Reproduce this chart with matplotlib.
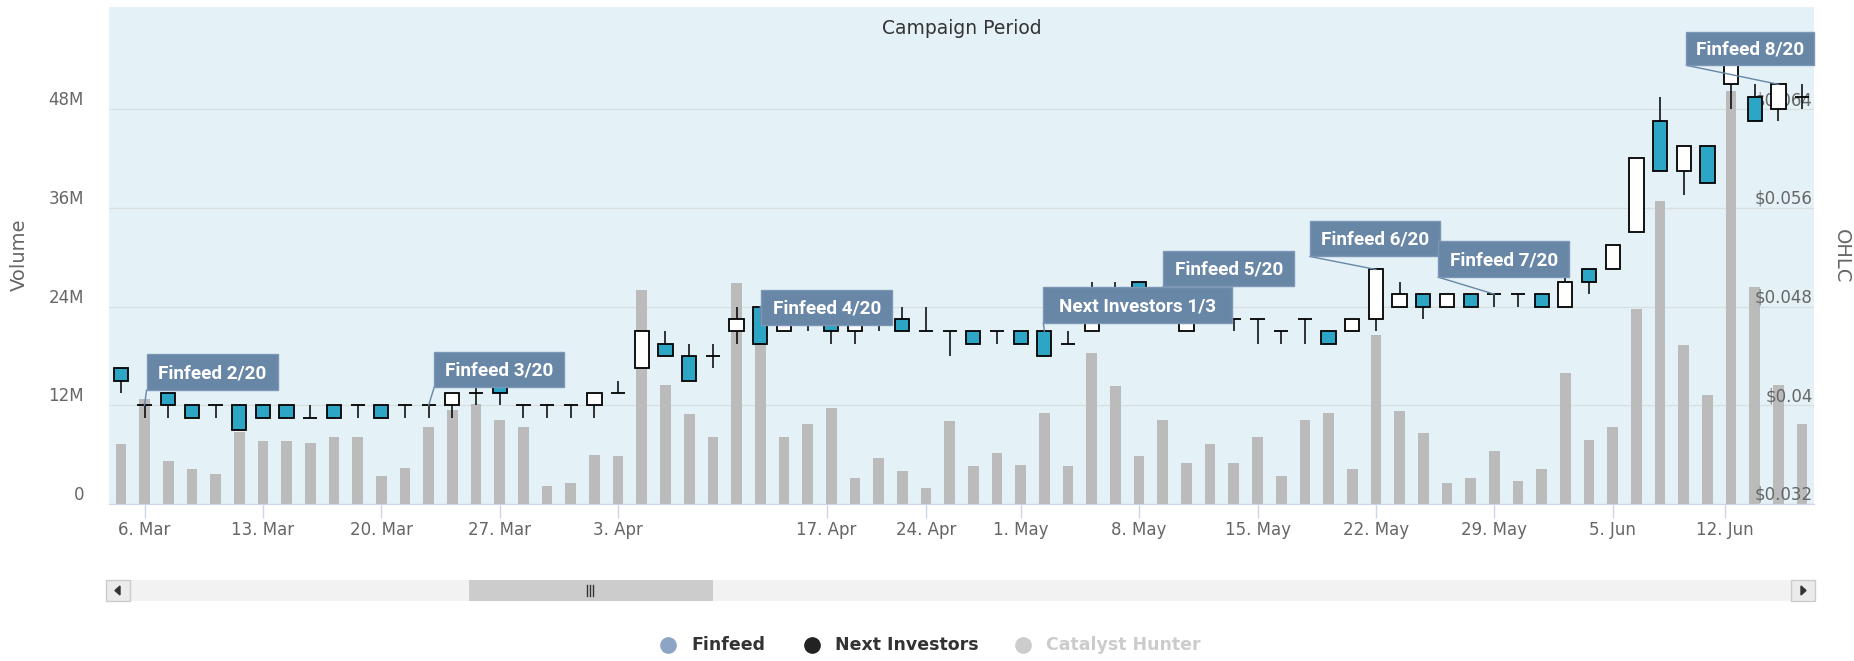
import numpy as np
import pandas as pd
import matplotlib
matplotlib.use('Agg')
from matplotlib import pyplot
from matplotlib import transforms
from matplotlib.lines import Line2D
from matplotlib.patches import Rectangle, Polygon

band_colour = '#e4f2f7'
grid_colour = '#d9dfe1'
axis_colour = '#ccd6eb'
label_colour = '#666666'
volume_colour = '#bbbbbb'
down_colour = '#2da6c6'
flag_colour = '#6886a6'
flag_font = ['Roboto', 'DejaVu Sans']

# ASX trading days in the visible window (weekends and public holidays skipped)
holidays = ['2017-04-14', '2017-04-17', '2017-04-25', '2017-06-12']
dates = pd.bdate_range('2017-03-03', '2017-06-16').drop(pd.DatetimeIndex(holidays))

# OHLC in tenths of a cent
opens = [43, 40, 41, 40, 40, 40, 40, 40, 39, 40, 40, 40, 40, 40, 40, 41, 42, 40, 40, 40,
         40, 41, 43, 45, 44, 44, 46, 48, 46, 47, 47, 46, 47, 47, 46, 46, 46, 46, 46, 46,
         45, 46, 48, 50, 48, 46, 48, 47, 47, 46, 47, 46, 46, 47, 48, 49, 48, 49, 49, 49,
         49, 48, 51, 51, 54, 63, 59, 61, 66, 65, 64, 65]
highs = [43, 40, 41, 40, 40, 40, 40, 40, 40, 40, 40, 40, 40, 40, 41, 41.5, 42, 40, 40, 40,
         41, 42, 46, 46, 45, 45, 48, 48, 47, 47, 47, 47, 47, 48, 48, 46, 46, 46, 46, 46,
         46, 50, 50, 50, 49, 48, 48, 47, 47, 46, 47, 46, 47, 51, 50, 49, 49, 49, 49, 49,
         49, 50.5, 51, 53, 60, 65, 61, 61, 68, 66, 66, 66]
lows = [41, 39, 39, 39, 39, 38, 39, 39, 39, 39, 39, 39, 39, 39, 39, 40, 40, 39, 39, 39,
        39, 41, 43, 44, 42, 43, 45, 45, 46, 46, 45, 45, 46, 46, 46, 44, 45, 45, 45, 44,
        45, 46, 47, 48, 48, 46, 47, 46, 45, 45, 45, 45, 46, 46, 48, 47, 48, 48, 48, 48,
        48, 48, 49, 51, 54, 59, 57, 58, 64, 63, 63, 64]
closes = [42, 40, 40, 39, 40, 38, 39, 39, 39, 39, 40, 39, 40, 40, 41, 41, 41, 40, 40, 40,
          41, 41, 46, 44, 42, 44, 47, 45, 47, 47, 46, 47, 47, 46, 46, 46, 45, 46, 45, 44,
          45, 48, 47, 48, 49, 48, 47, 47, 47, 46, 47, 45, 47, 51, 49, 48, 49, 48, 49, 49,
          48, 50, 50, 53, 60, 59, 61, 58, 68, 63, 66, 65]
# volume in millions of shares
volume_m = [7.3, 12.7, 5.2, 4.2, 3.6, 8.7, 7.7, 7.7, 7.4, 8.2, 8.1, 3.4, 4.4, 9.4, 11.4, 12.2,
            10.2, 9.4, 2.2, 2.6, 6.0, 5.8, 26.0, 14.5, 10.9, 8.1, 26.9, 21.0, 8.1, 9.7, 11.7,
            3.2, 5.6, 4.0, 2.0, 10.1, 4.6, 6.2, 4.8, 11.0, 4.6, 18.3, 14.3, 5.8, 10.2, 5.0,
            7.3, 5.0, 8.2, 3.4, 10.2, 11.0, 4.2, 20.5, 11.3, 8.6, 2.6, 3.2, 6.4, 2.8, 4.2,
            15.9, 7.8, 9.4, 23.7, 36.8, 19.3, 13.3, 50.2, 26.4, 14.5, 9.7]

tick_dates = ['2017-03-06', '2017-03-13', '2017-03-20', '2017-03-27', '2017-04-03',
              '2017-04-17', '2017-04-24', '2017-05-01', '2017-05-08', '2017-05-15',
              '2017-05-22', '2017-05-29', '2017-06-05', '2017-06-12']
tick_labels = ['6. Mar', '13. Mar', '20. Mar', '27. Mar', '3. Apr', '17. Apr', '24. Apr',
               '1. May', '8. May', '15. May', '22. May', '29. May', '5. Jun', '12. Jun']
volume_ticks = [0, 12, 24, 36, 48]
volume_labels = ['0', '12M', '24M', '36M', '48M']
price_ticks = [0.032, 0.04, 0.048, 0.056, 0.064]
price_labels = ['$0.032', '$0.04', '$0.048', '$0.056', '$0.064']

flag_texts = ['Finfeed 2/20', 'Finfeed 3/20', 'Finfeed 4/20', 'Next Investors 1/3',
              'Finfeed 5/20', 'Finfeed 6/20', 'Finfeed 7/20', 'Finfeed 8/20']
flag_dates = ['2017-03-06', '2017-03-22', '2017-04-11', '2017-05-02',
              '2017-05-09', '2017-05-22', '2017-05-29', '2017-06-15']
flag_prices = [0.040, 0.040, 0.048, 0.046, 0.049, 0.051, 0.049, 0.066]
# box placement in pixels relative to the flagged point: dx, dy, width, height
flag_boxes = [(2, 15, 131, 36), (5.5, 18, 130, 35), (1, -18, 131, 35), (-1, 8, 189, 36),
              (0.5, 8, 131, 35), (-66, 13, 130, 35), (-56, 17, 131, 36), (-92, 19, 128, 33)]

legend_names = ['Finfeed', 'Next Investors', 'Catalyst Hunter']
legend_markers = ['#8da5c4', '#222222', '#cccccc']
legend_text_colours = ['#333333', '#333333', '#cccccc']
legend_x = [668, 812, 1023]

W, H = 1854, 661
fig = pyplot.figure(figsize=(W / 100, H / 100), dpi=100)

# Volume axis (left) with the campaign band as background
ax = fig.add_axes([109 / W, 1 - 504 / H, (1814 - 109) / W, (504 - 7) / H])
ax.set_facecolor(band_colour)
x = np.arange(len(dates))
ax.bar(x, volume_m, width=0.45, color=volume_colour, zorder=2)
ax.set_yticks(volume_ticks, volume_labels, va='bottom', color=label_colour, fontsize=12)
ax.tick_params(axis='y', length=0, pad=18)
ax.yaxis.grid(True, color=grid_colour, linewidth=1)
ax.set_axisbelow(True)
for side in ['left', 'right', 'top']:
    ax.spines[side].set_visible(False)
ax.spines['bottom'].set_color(axis_colour)

day_ord = [d.toordinal() for d in dates]
tick_pos = np.interp([pd.Timestamp(d).toordinal() for d in tick_dates], day_ord, x)
ax.set_xticks(tick_pos, tick_labels, color=label_colour, fontsize=12)
ax.tick_params(axis='x', length=10, width=1, color=axis_colour, pad=2)
ax.text(0.5, (504 - 28) / 497, 'Campaign Period', transform=ax.transAxes,
        ha='center', va='center', fontsize=13.5, color='#333333')

# Price axis (right) with the candlesticks
ax2 = ax.twinx()
for s in ax2.spines.values():
    s.set_visible(False)
o = np.array(opens) / 1000
h = np.array(highs) / 1000
l = np.array(lows) / 1000
c = np.array(closes) / 1000
ax2.vlines(x, l, h, color='black', linewidth=1.1, zorder=3)
body_colours = [down_colour if cc < oo else 'white' for oo, cc in zip(o, c)]
ax2.bar(x, np.abs(c - o), bottom=np.minimum(o, c), width=0.6, color=body_colours,
        edgecolor='black', linewidth=1.3, zorder=4)
ax2.set_yticks(price_ticks, price_labels, va='bottom', ha='right', color=label_colour, fontsize=12)
ax2.tick_params(axis='y', length=0, pad=-1)

# size the flag text so "Finfeed 2/20" is about 108 px wide, as in the screenshot
renderer = fig.canvas.get_renderer()
probe = fig.text(0, 0, flag_texts[0], fontsize=16, fontweight='bold', family=flag_font)
flag_size = min(17.0, 16 * 108 / probe.get_window_extent(renderer).width)
probe.remove()

# Campaign flags
for text, fd, fp, (dx, dy, w, bh) in zip(flag_texts, flag_dates, flag_prices, flag_boxes):
    i = dates.get_loc(pd.Timestamp(fd))
    t = transforms.ScaledTranslation(i, fp, ax2.transData)
    ax2.add_artist(Line2D([dx, 0], [dy, 0], transform=t, color=flag_colour,
                          linewidth=1, zorder=5, clip_on=False))
    ax2.add_artist(Rectangle((dx, dy), w, bh, transform=t, facecolor=flag_colour,
                             edgecolor='#7b97b5', linewidth=1, zorder=6, clip_on=False))
    ax2.text(dx + w / 2, dy + bh / 2 - 1, text, transform=t, ha='center', va='center',
             color='white', fontsize=flag_size, fontweight='bold', family=flag_font, zorder=7)

ax.set_xlim(-0.5, len(dates) - 0.5)
ax.set_ylim(0, 60.4)
ax2.set_ylim(0.032, 0.032 + 60.4 / 12 * 0.008)

fig.text(19 / W, 1 - 255 / H, 'Volume', rotation=90, ha='center', va='center',
         fontsize=14, color=label_colour)
fig.text(1841 / W, 1 - 256 / H, 'OHLC', rotation=270, ha='center', va='center',
         fontsize=14, color=label_colour)

# Scrollbar and legend, drawn in pixel coordinates
ui = fig.add_axes([0, 0, 1, 1], zorder=-1)
ui.set_xlim(0, W)
ui.set_ylim(H, 0)
ui.axis('off')
ui.add_patch(Rectangle((106, 580), 1709, 21, facecolor='#f2f2f2', edgecolor='none'))
ui.add_patch(Rectangle((469, 580), 244, 21, facecolor='#cccccc', edgecolor='none'))
for bx in (106, 1791):
    ui.add_patch(Rectangle((bx, 580), 24, 21, facecolor='#ebebeb', edgecolor='#cccccc', linewidth=1))
ui.add_patch(Polygon([[120, 586], [120, 595], [115, 590.5]], closed=True, color='#333333'))
ui.add_patch(Polygon([[1801, 586], [1801, 595], [1806, 590.5]], closed=True, color='#333333'))
for gx in (587, 590, 593):
    ui.plot([gx, gx], [585, 596], color='#333333', linewidth=1)

for name, mc, tc, lx in zip(legend_names, legend_markers, legend_text_colours, legend_x):
    ui.plot(lx, 645, 'o', markersize=11, color=mc)
    ui.text(lx + 23, 645, name, ha='left', va='center', fontsize=12.5,
            fontweight='bold', color=tc)

fig.savefig('out.png', dpi=100)
